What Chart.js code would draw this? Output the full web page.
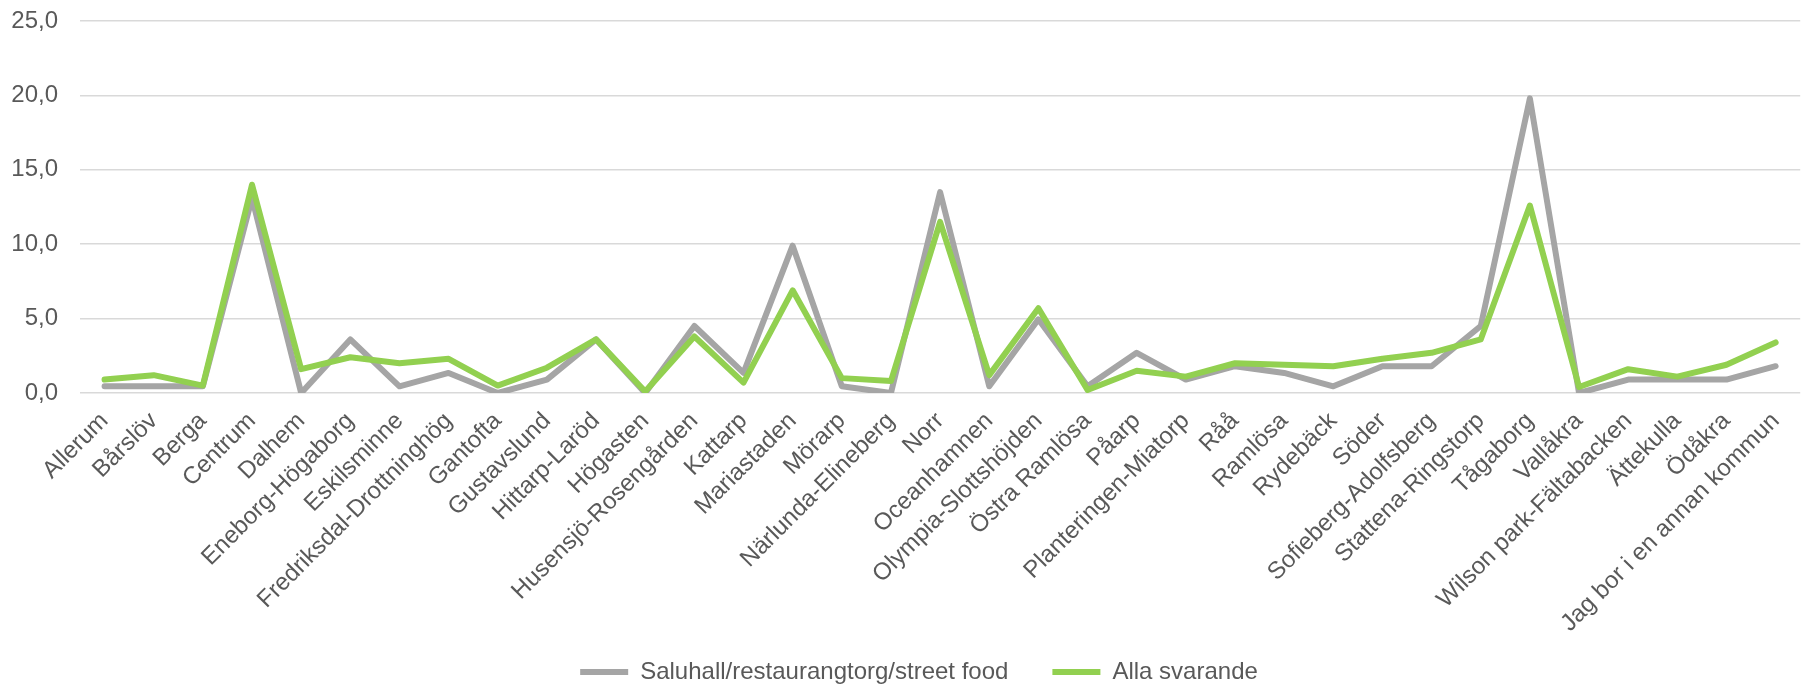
<!DOCTYPE html>
<html lang="sv">
<head>
<meta charset="utf-8">
<title>Saluhall/restaurangtorg/street food per stadsdel</title>
<script src="https://cdn.jsdelivr.net/npm/chart.js@4/dist/chart.umd.min.js"></script>
<style>
  html, body { margin: 0; padding: 0; background: #fff; }
  #wrap { width: 1802px; height: 688px; }
</style>
</head>
<body>
<div id="wrap"><canvas id="chart" width="1802" height="688"></canvas></div>
<script>
// stadsdelar (x-axeln)
const areas = [
  'Allerum', 'Bårslöv', 'Berga', 'Centrum', 'Dalhem', 'Eneborg-Högaborg', 'Eskilsminne',
  'Fredriksdal-Drottninghög', 'Gantofta', 'Gustavslund', 'Hittarp-Laröd', 'Högasten',
  'Husensjö-Rosengården', 'Kattarp', 'Mariastaden', 'Mörarp', 'Närlunda-Elineberg', 'Norr',
  'Oceanhamnen', 'Olympia-Slottshöjden', 'Östra Ramlösa', 'Påarp', 'Planteringen-Miatorp',
  'Råå', 'Ramlösa', 'Rydebäck', 'Söder', 'Sofieberg-Adolfsberg', 'Stattena-Ringstorp',
  'Tågaborg', 'Vallåkra', 'Wilson park-Fältabacken', 'Ättekulla', 'Ödåkra',
  'Jag bor i en annan kommun'
];

const saluhall = [
  0.45, 0.45, 0.45, 13.1, 0.0, 3.6, 0.45, 1.35, 0.0, 0.9, 3.6, 0.0,
  4.5, 1.35, 9.9, 0.45, 0.0, 13.5, 0.45, 4.95, 0.45, 2.7, 0.9,
  1.8, 1.35, 0.45, 1.8, 1.8, 4.5, 19.8, 0.0, 0.9, 0.9, 0.9, 1.8
];

const allaSvarande = [
  0.9, 1.2, 0.5, 14.0, 1.6, 2.4, 2.0, 2.3, 0.5, 1.7, 3.6, 0.1,
  3.8, 0.7, 6.9, 1.0, 0.8, 11.5, 1.2, 5.7, 0.2, 1.5, 1.1,
  2.0, 1.9, 1.8, 2.3, 2.7, 3.6, 12.6, 0.4, 1.6, 1.1, 1.9, 3.4
];

const seriesNames = ['Saluhall/restaurangtorg/street food', 'Alla svarande'];
const yMin = 0;
const yMax = 25;
const yStep = 5;

const textColor = '#595959';
const font = { family: '"Liberation Sans", Arial, sans-serif', size: 24 };

// legenden: lite åt höger och ner, som i originalet
const legendShift = {
  id: 'legendShift',
  afterLayout(chart) {
    const lg = chart.legend;
    lg.left += 18;
    lg.right += 18;
    lg.top = 616;
    lg.bottom = 688;
    lg.height = lg.bottom - lg.top;
  }
};

new Chart(document.getElementById('chart'), {
  type: 'line',
  data: {
    labels: areas,
    datasets: [{
      label: seriesNames[0],
      data: saluhall,
      borderColor: '#a5a5a5',
      backgroundColor: '#a5a5a5',
      borderWidth: 6,
      pointRadius: 0,
      borderJoinStyle: 'round',
      borderCapStyle: 'round',
      order: 1
    }, {
      label: seriesNames[1],
      data: allaSvarande,
      borderColor: '#92d050',
      backgroundColor: '#92d050',
      borderWidth: 6,
      pointRadius: 0,
      borderJoinStyle: 'round',
      borderCapStyle: 'round',
      order: 0 // grön linje överst
    }]
  },
  options: {
    responsive: false,
    animation: false,
    layout: { padding: { top: 21, left: 0, right: 0, bottom: 0 } },
    plugins: {
      tooltip: { enabled: false },
      legend: {
        position: 'bottom',
        maxHeight: 40,
        labels: {
          usePointStyle: true,
          pointStyle: 'line',
          pointStyleWidth: 48,
          padding: 44,
          color: textColor,
          font: font,
          sort: (a, b) => a.datasetIndex - b.datasetIndex
        }
      }
    },
    scales: {
      x: {
        offset: true,
        grid: { display: false },
        border: { display: false },
        ticks: {
          autoSkip: false,
          minRotation: 45,
          maxRotation: 45,
          padding: 6,
          color: textColor,
          font: font
        },
        afterFit: s => { s.height = 255; }
      },
      y: {
        min: yMin,
        max: yMax,
        grid: { color: '#d9d9d9', lineWidth: 1.5, drawTicks: true, tickLength: 22, tickColor: 'rgba(0,0,0,0)' },
        border: { display: false },
        ticks: {
          stepSize: yStep,
          padding: 0,
          color: textColor,
          font: font,
          callback: v => v.toFixed(1).replace('.', ',')
        },
        afterFit: s => { s.width = 80; }
      }
    }
  },
  plugins: [legendShift]
});
</script>
</body>
</html>
